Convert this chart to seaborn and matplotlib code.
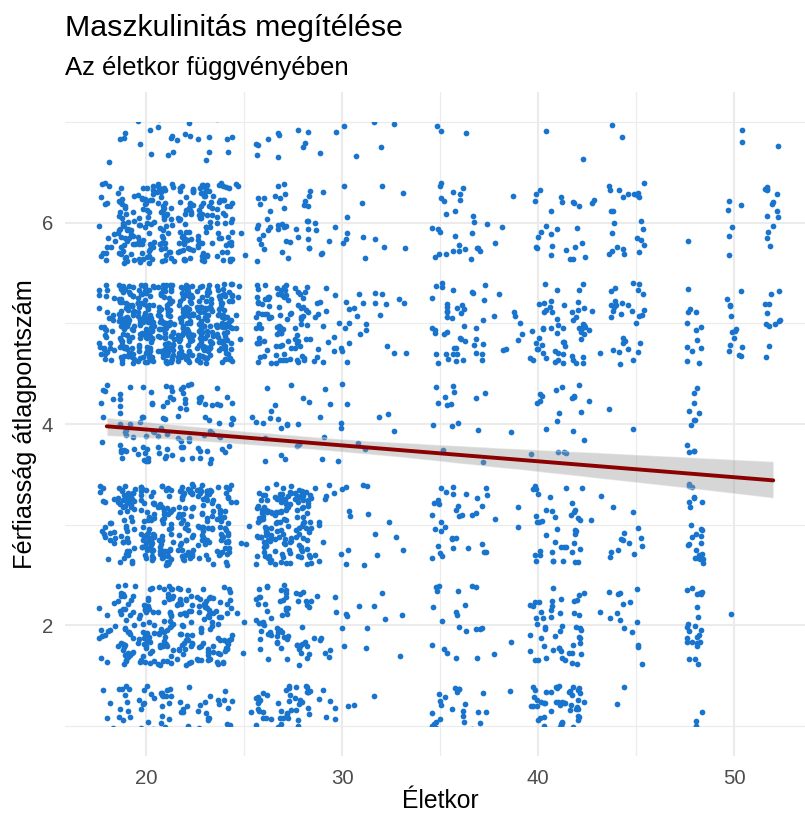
import numpy as np
import pandas as pd
import matplotlib.pyplot as plt
import seaborn as sns
from matplotlib.patches import Rectangle
from matplotlib.collections import PolyCollection, PathCollection
from matplotlib.ticker import MultipleLocator

# életkorok és a válaszadók száma pontszámonként (1..7), a képről becsülve
ages = [18, 19, 20, 21, 22, 23, 24, 25, 26, 27, 28, 29, 30, 31, 32, 33,
        35, 36, 37, 38, 39, 40, 41, 42, 43, 44, 45, 48, 50, 52]
cnt_1 = [6, 18, 18, 18, 18, 16, 14, 2, 26, 28, 24, 6, 6, 2, 2, 0,
         16, 14, 10, 0, 2, 28, 26, 28, 0, 4, 2, 10, 0, 0]
cnt_2 = [12, 41, 41, 41, 41, 39, 30, 3, 22, 24, 20, 7, 6, 3, 3, 2,
         8, 7, 6, 1, 1, 17, 16, 18, 1, 8, 7, 24, 1, 0]
cnt_3 = [18, 50, 50, 50, 50, 48, 40, 4, 50, 54, 46, 9, 8, 4, 3, 2,
         14, 12, 9, 1, 2, 14, 13, 15, 2, 7, 6, 26, 0, 0]
cnt_4 = [7, 18, 18, 18, 18, 17, 14, 1, 7, 8, 6, 5, 5, 2, 2, 1,
         6, 5, 4, 0, 1, 6, 7, 7, 1, 1, 1, 12, 0, 0]
cnt_5 = [30, 82, 82, 82, 82, 79, 68, 5, 34, 36, 30, 12, 12, 7, 6, 4,
         18, 16, 12, 4, 5, 17, 19, 21, 3, 16, 14, 13, 14, 12]
cnt_6 = [16, 45, 45, 45, 45, 42, 36, 4, 14, 15, 13, 6, 6, 3, 3, 2,
         11, 10, 8, 2, 1, 8, 8, 9, 2, 13, 12, 1, 6, 14]
cnt_7 = [2, 8, 8, 8, 8, 8, 6, 0, 6, 6, 6, 2, 4, 2, 2, 2,
         2, 2, 0, 0, 0, 1, 0, 2, 0, 2, 2, 0, 4, 4]
score_levels = [1, 2, 3, 4, 5, 6, 7]

counts = [cnt_1, cnt_2, cnt_3, cnt_4, cnt_5, cnt_6, cnt_7]
rows_x = []
rows_y = []
for lvl, cnt in zip(score_levels, counts):
    rows_x.append(np.repeat(ages, cnt))
    rows_y.append(np.repeat(lvl, sum(cnt)))
df = pd.DataFrame({"eletkor": np.concatenate(rows_x),
                   "pont": np.concatenate(rows_y)})

sns.set_style("white")
plt.rcParams["font.family"] = ["Liberation Sans", "DejaVu Sans"]
plt.rcParams["text.color"] = "black"

fig = plt.figure(figsize=(8.05, 8.13), dpi=100)
# a panel jobb széle kilóg a képből (mint az eredetin)
ax = fig.add_axes([65 / 805, 57 / 813, 750 / 805, 664 / 813])

np.random.seed(3)
sns.regplot(data=df, x="eletkor", y="pont", ax=ax,
            x_jitter=0.42, y_jitter=0.4, ci=95, seed=1,
            scatter_kws=dict(s=17, color="#1874CD", linewidths=0, alpha=1),
            line_kws=dict(color="#8B0000", lw=2.8))

for coll in ax.collections:
    if isinstance(coll, PolyCollection):
        coll.set_facecolor("#999999")
        coll.set_alpha(0.4)
    elif isinstance(coll, PathCollection):
        # a skálán kívülre jitterelt pontok elhagyása (mint ggplot-ban)
        clip = Rectangle((0, 1.0), 100, 6.0, transform=ax.transData)
        coll.set_clip_path(clip)

ax.set_xlim(15.87, 54.13)
ax.set_ylim(0.7, 7.3)
ax.set_xticks([20, 30, 40, 50])
ax.set_yticks([2, 4, 6])
ax.xaxis.set_minor_locator(MultipleLocator(5))
ax.yaxis.set_minor_locator(MultipleLocator(1))
ax.grid(which="major", color="#EBEBEB", lw=1.5)
ax.grid(which="minor", color="#EBEBEB", lw=0.8)
ax.set_axisbelow(True)
for s in ax.spines.values():
    s.set_visible(False)
ax.tick_params(which="both", length=0, labelsize=14.7, labelcolor="#4D4D4D")
ax.tick_params(axis="x", pad=9.4)
ax.tick_params(axis="y", pad=8.6)

ax.set_xlabel("Életkor", fontsize=17.8, color="black")
ax.set_ylabel("Férfiasság átlagpontszám", fontsize=18.2, color="black")
ax.xaxis.set_label_coords(0.5, -0.049)
ax.yaxis.set_label_coords(-28 / 750, 0.5)

fig.text(65 / 805, 1 - 36 / 813, "Maszkulinitás megítélése",
         fontsize=21.8, va="baseline", ha="left", color="black")
fig.text(65 / 805, 1 - 75 / 813, "Az életkor függvényében",
         fontsize=18.5, va="baseline", ha="left", color="black")

fig.savefig("out.png", dpi=100)
